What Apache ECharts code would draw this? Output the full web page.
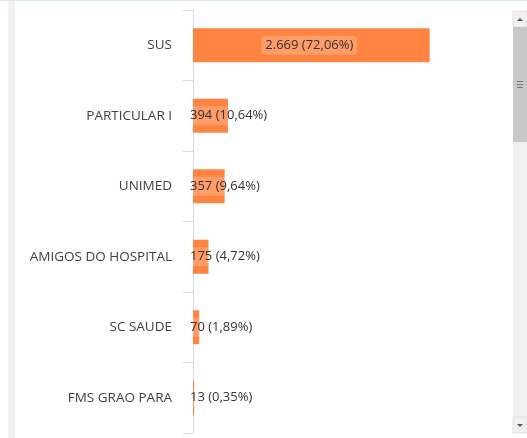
<!DOCTYPE html>
<html>
<head>
<meta charset="utf-8">
<script src="https://cdn.jsdelivr.net/npm/echarts@6/dist/echarts.min.js"></script>
<style>
html,body{margin:0;padding:0;background:#fff;}
#c{width:527px;height:438px;}
</style>
</head>
<body>
<div id="c"></div>
<script>
var categories = ['SUS', 'PARTICULAR I', 'UNIMED', 'AMIGOS DO HOSPITAL', 'SC SAUDE', 'FMS GRAO PARA'];
var values = [2669, 394, 357, 175, 70, 13];
var percents = ['72,06', '10,64', '9,64', '4,72', '1,89', '0,35'];

function fmt(n) {
  return String(n).replace(/\B(?=(\d{3})+(?!\d))/g, '.');
}

var data = values.map(function (v, i) {
  var big = v > 1000;
  return {
    value: v,
    label: big ? { position: 'inside', offset: [-2, 0] } : { position: 'insideLeft', distance: 0, offset: [-7, 0] }
  };
});

var chart = echarts.init(document.getElementById('c'), null, { renderer: 'canvas' });
chart.setOption({
  animation: false,
  grid: { left: 193, right: 68, top: 10, bottom: 5, containLabel: false, outerBoundsMode: 'none' },
  xAxis: { type: 'value', min: 0, max: 3000, show: false },
  yAxis: {
    type: 'category',
    data: categories,
    inverse: true,
    offset: 6,
    axisLine: { show: true, lineStyle: { color: '#d3dbee', width: 1 } },
    axisTick: { show: true, length: 10, alignWithLabel: false, interval: 0, lineStyle: { color: '#d3dbee', width: 1 } },
    axisLabel: { color: '#404040', fontFamily: 'Open Sans', fontSize: 13.5, margin: 15 }
  },
  series: [{
    type: 'bar',
    data: data,
    barWidth: 34,
    itemStyle: { color: '#ff8441' },
    label: {
      show: true,
      color: '#333',
      fontFamily: 'Open Sans',
      fontSize: 13,
      backgroundColor: 'rgba(255,255,255,0.2)',
      borderRadius: 4,
      padding: [3, 4],
      formatter: function (p) { return fmt(p.value) + ' (' + percents[p.dataIndex] + '%)'; }
    }
  }],
  graphic: [
    { type: 'rect', shape: { x: 0, y: 0, width: 527, height: 1 }, style: { fill: '#d8eef2' }, silent: true },
    { type: 'rect', shape: { x: 8, y: 1, width: 7, height: 437 }, style: { fill: '#f1f1f1' }, silent: true },
    { type: 'rect', shape: { x: 513, y: 11, width: 14, height: 422 }, style: { fill: '#f0f0f0' }, silent: true },
    { type: 'rect', shape: { x: 513, y: 11, width: 14, height: 16 }, style: { fill: '#f0f0f0', stroke: '#e2e2e2', lineWidth: 1 }, silent: true },
    { type: 'polygon', shape: { points: [[517, 21], [523, 21], [520, 18]] }, style: { fill: '#555' }, silent: true },
    { type: 'rect', shape: { x: 513, y: 27, width: 14, height: 115 }, style: { fill: '#c8c8c8' }, silent: true },
    { type: 'rect', shape: { x: 517, y: 81, width: 6, height: 1 }, style: { fill: '#777' }, silent: true },
    { type: 'rect', shape: { x: 517, y: 84, width: 6, height: 1 }, style: { fill: '#777' }, silent: true },
    { type: 'rect', shape: { x: 517, y: 87, width: 6, height: 1 }, style: { fill: '#777' }, silent: true },
    { type: 'rect', shape: { x: 513, y: 417, width: 14, height: 16 }, style: { fill: '#f0f0f0', stroke: '#e2e2e2', lineWidth: 1 }, silent: true },
    { type: 'polygon', shape: { points: [[517, 424], [523, 424], [520, 427]] }, style: { fill: '#555' }, silent: true }
  ]
});
</script>
</body>
</html>
